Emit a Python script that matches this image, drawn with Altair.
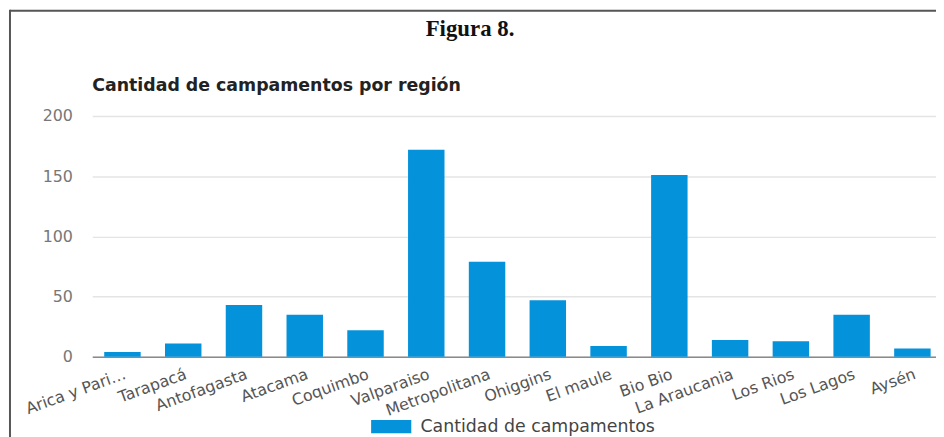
import altair as alt
import pandas as pd

regiones = ["Arica y Parinacota", "Tarapacá", "Antofagasta", "Atacama", "Coquimbo",
            "Valparaiso", "Metropolitana", "Ohiggins", "El maule", "Bio Bio",
            "La Araucania", "Los Rios", "Los Lagos", "Aysén"]
campamentos = [4, 11, 43, 35, 22, 172, 79, 47, 9, 151, 14, 13, 35, 7]
serie = "Cantidad de campamentos"
titulo = "Figura 8."
subtitulo = "Cantidad de campamentos por región"
y_ticks = [0, 50, 100, 150, 200]

df = pd.DataFrame({"region": regiones, "valor": campamentos,
                   "serie": [serie] * len(regiones)})

W, H = 851, 243
SANS = "DejaVu Sans"

bars = alt.Chart(df).mark_bar().encode(
    x=alt.X("region:N", sort=regiones,
            scale=alt.Scale(paddingInner=0.4, paddingOuter=0.1425, align=0.69),
            axis=alt.Axis(title=None, labelAngle=-20, labelAlign="right",
                          labelBaseline="top", labelPadding=9, ticks=False,
                          labelExpr="truncate(datum.label, 13)",
                          labelFont=SANS, labelFontSize=16, labelColor="#555555",
                          domainColor="#8a8a8a", domainWidth=1.5, grid=False)),
    y=alt.Y("valor:Q", scale=alt.Scale(domain=[0, 200], nice=False),
            axis=alt.Axis(title=None, values=y_ticks, ticks=False, domain=False,
                          labelPadding=20, gridColor="#e4e4e4", gridWidth=1.5,
                          labelFont=SANS, labelFontSize=16, labelColor="#777777")),
    color=alt.Color("serie:N", scale=alt.Scale(range=["#0492DB"]),
                    legend=alt.Legend(title=None, orient="none", legendX=281, legendY=293,
                                      padding=0, labelLimit=400,
                                      symbolType="M-1,-0.33H1V0.33H-1Z", symbolSize=1640,
                                      symbolStrokeWidth=0, symbolOpacity=1,
                                      labelFont=SANS, labelFontSize=17.5,
                                      labelColor="#444444", labelOffset=9)),
)

one = pd.DataFrame({"t": [titulo]})
fig = alt.Chart(one).mark_text(font="Liberation Serif", fontWeight="bold", fontSize=23,
                               align="center", baseline="alphabetic", color="#111111").encode(
    text="t:N", x=alt.value(381), y=alt.value(-81))

sub = alt.Chart(pd.DataFrame({"t": [subtitulo]})).mark_text(
    font=SANS, fontWeight="bold", fontSize=17.5, align="left", baseline="alphabetic",
    color="#222222").encode(text="t:N", x=alt.value(0), y=alt.value(-25))

frame_top = alt.Chart(pd.DataFrame({"a": [0]})).mark_rule(color="#555555", strokeWidth=2).encode(
    x=alt.value(-83), x2=alt.value(W), y=alt.value(-106))
frame_left = alt.Chart(pd.DataFrame({"a": [0]})).mark_rule(color="#555555", strokeWidth=2).encode(
    x=alt.value(-83), y=alt.value(-107), y2=alt.value(330))

chart = alt.layer(frame_top, frame_left, fig, sub, bars).properties(
    width=W, height=H,
    padding={"left": 85, "top": 107, "right": 0, "bottom": 79},
    autosize=alt.AutoSizeParams(type="none"),
).configure_view(stroke=None)

chart.save("out.html", embed_options={"renderer": "svg", "actions": False})
